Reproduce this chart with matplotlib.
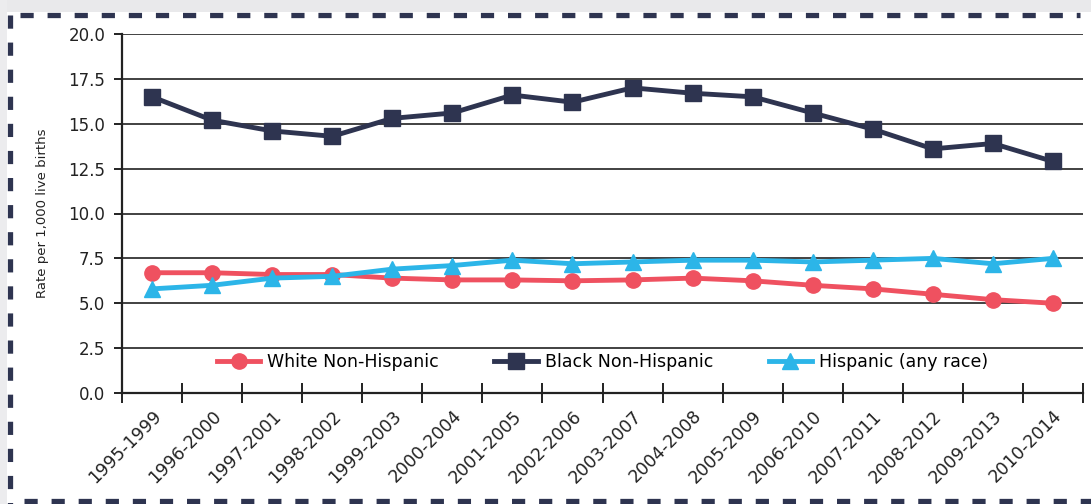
import matplotlib
matplotlib.use("Agg")
import matplotlib.pyplot as plt
import matplotlib.transforms as mtransforms
from matplotlib.lines import Line2D
from matplotlib.patches import Rectangle

plt.rcParams['font.family'] = ['DejaVu Sans']
plt.rcParams['lines.scale_dashes'] = False

periods = ['1995-1999', '1996-2000', '1997-2001', '1998-2002', '1999-2003',
           '2000-2004', '2001-2005', '2002-2006', '2003-2007', '2004-2008',
           '2005-2009', '2006-2010', '2007-2011', '2008-2012', '2009-2013',
           '2010-2014']
white = [6.7, 6.7, 6.6, 6.6, 6.4, 6.3, 6.3, 6.25, 6.3, 6.4, 6.25, 6.0, 5.8, 5.5, 5.2, 5.0]
black = [16.5, 15.2, 14.6, 14.3, 15.3, 15.6, 16.6, 16.2, 17.0, 16.7, 16.5, 15.6, 14.7, 13.6, 13.9, 12.9]
hispanic = [5.8, 6.0, 6.4, 6.5, 6.9, 7.1, 7.4, 7.2, 7.3, 7.4, 7.4, 7.3, 7.4, 7.5, 7.2, 7.5]

W, H = 1091, 504
fig = plt.figure(figsize=(W / 100, H / 100), dpi=100)
fig.patch.set_facecolor('white')

# grey screenshot edges
fig.add_artist(Rectangle((0, 1 - 12 / H), 1, 12 / H, transform=fig.transFigure,
                         facecolor='#e9e9eb', edgecolor='none', zorder=0))
fig.add_artist(Rectangle((0, 0), 7 / W, 1, transform=fig.transFigure,
                         facecolor='#ececee', edgecolor='none', zorder=0))

# dashed frame
navy = '#2e3450'
def px(x, y):
    return x / W, 1 - y / H
for (x0, y0), (x1, y1) in [((20, 15), (1080, 15)), ((10, 15), (10, 504)),
                            ((24, 501), (1091, 501))]:
    (a, b), (c, d) = px(x0, y0), px(x1, y1)
    ln = Line2D([a, c], [b, d], transform=fig.transFigure, color=navy, lw=3.8,
                dashes=(9.5, 10))
    fig.add_artist(ln)

ax = fig.add_axes([122 / W, 1 - 393 / H, (1083 - 122) / W, (393 - 34) / H])
x = list(range(len(periods)))

ax.plot(x, white, color='#ef5160', lw=3.5, marker='o', ms=11, label='White Non-Hispanic', zorder=3)
ax.plot(x, black, color=navy, lw=3.5, marker='s', ms=11, label='Black Non-Hispanic', zorder=3)
ax.plot(x, hispanic, color='#2cb5e8', lw=3.5, marker='^', ms=12, label='Hispanic (any race)', zorder=3)

ax.set_xlim(-0.5, len(periods) - 0.5)
ax.set_ylim(0, 20)
ax.set_yticks([0, 2.5, 5, 7.5, 10, 12.5, 15, 17.5, 20])
ax.set_yticklabels(['%.1f' % v for v in ax.get_yticks()], fontsize=12, color='#222222')
ax.yaxis.grid(True, color='#333333', lw=1.3)
ax.set_axisbelow(True)

ax.set_xticks([i - 0.5 for i in range(len(periods) + 1)])
ax.set_xticklabels([])
ax.set_xticks(x, minor=True)
ax.set_xticklabels(periods, minor=True, rotation=45, ha='right', rotation_mode='anchor',
                   fontsize=12.5, color='#222222')
shift = mtransforms.ScaledTranslation(-7 / 100, -4 / 100, fig.dpi_scale_trans)
for lab in ax.xaxis.get_minorticklabels():
    lab.set_transform(lab.get_transform() + shift)
ax.tick_params(axis='x', which='major', direction='inout', length=14, width=1.4, color='#222222')
ax.tick_params(axis='x', which='minor', length=0, pad=10)
ax.tick_params(axis='y', direction='out', length=6, width=1.4, color='#222222', pad=6)

for s in ['top', 'right']:
    ax.spines[s].set_visible(False)
ax.spines['left'].set_linewidth(1.6)
ax.spines['bottom'].set_linewidth(1.6)
ax.spines['left'].set_color('#222222')
ax.spines['bottom'].set_color('#222222')

ax.set_ylabel('Rate per 1,000 live births', fontsize=9.5, color='#222222', labelpad=14)

ax.legend(loc='center', bbox_to_anchor=(0.5, 0.085), ncol=3, frameon=False,
          fontsize=12.5, handlelength=2.5, columnspacing=3.2, handletextpad=0.4)

fig.savefig('out.png', dpi=100)
